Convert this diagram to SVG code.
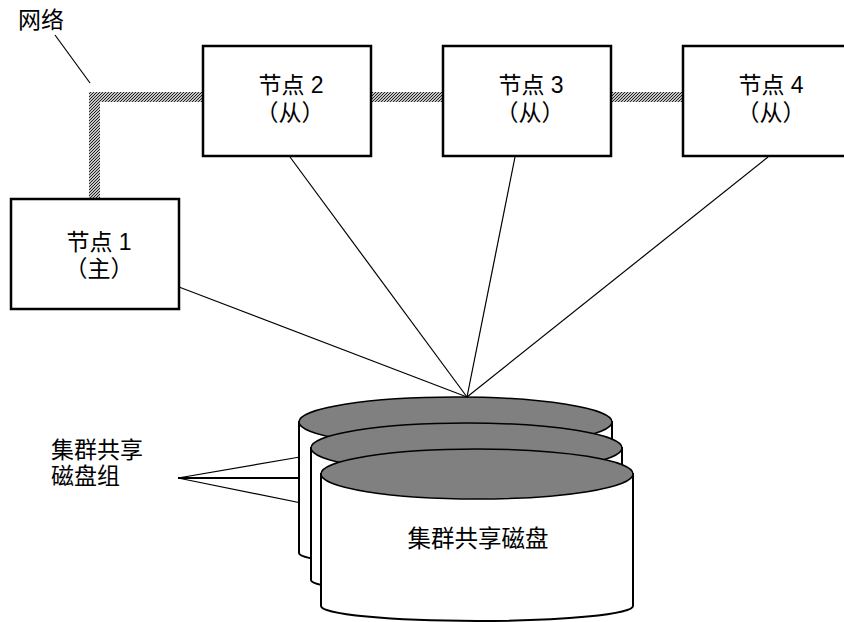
<svg xmlns="http://www.w3.org/2000/svg" width="844" height="622" viewBox="0 0 844 622">
<defs>
<pattern id="hatch" width="3" height="3" patternUnits="userSpaceOnUse">
<rect width="3" height="3" fill="#c4c4c4"/>
<path d="M-1,1 L1,-1 M0,3 L3,0 M2,4 L4,2" stroke="#222" stroke-width="1"/>
</pattern>
<style>
.box{fill:#fff;stroke:#000;stroke-width:2.5}
.t{font-family:"Liberation Sans","Noto Sans CJK SC",sans-serif;font-size:23px;fill:#000;text-anchor:middle}
.lbl{font-family:"Liberation Sans","Noto Sans CJK SC",sans-serif;font-size:23px;fill:#000}
.ln{stroke:#000;stroke-width:1.2;fill:none}
.side{fill:#fff;stroke:#000;stroke-width:2}
.top{fill:#808080;stroke:#000;stroke-width:1.5}
.net{fill:url(#hatch);stroke:none}
</style>
</defs>
<rect width="844" height="622" fill="#fff"/>
<g id="network">
<rect class="net" x="89" y="92" width="114" height="10"/>
<rect class="net" x="89" y="92" width="11" height="107"/>
<rect class="net" x="371" y="92" width="72" height="10"/>
<rect class="net" x="611" y="92" width="72" height="10"/>
<text class="lbl" x="18" y="28">网络</text>
<line class="ln" x1="55" y1="35" x2="90" y2="83"/>
</g>
<g id="connectors">
<line class="ln" x1="179" y1="287" x2="467" y2="397"/>
<line class="ln" x1="290" y1="157" x2="467" y2="397"/>
<line class="ln" x1="515" y1="157" x2="467" y2="397"/>
<line class="ln" x1="768" y1="157" x2="467" y2="397"/>
</g>
<g id="node1">
<rect class="box" x="11" y="199" width="168" height="110"/>
<text class="t" x="99" y="250">节点 1</text>
<text class="t" x="99" y="277">（主）</text>
</g>
<g id="node2">
<rect class="box" x="203" y="46" width="168" height="110"/>
<text class="t" x="291" y="93">节点 2</text>
<text class="t" x="290" y="121">（从）</text>
</g>
<g id="node3">
<rect class="box" x="443" y="46" width="168" height="110"/>
<text class="t" x="531" y="93">节点 3</text>
<text class="t" x="530" y="121">（从）</text>
</g>
<g id="node4">
<rect class="box" x="683" y="46" width="172" height="110"/>
<text class="t" x="771" y="93">节点 4</text>
<text class="t" x="771" y="121">（从）</text>
</g>
<g id="disk-group-label">
<text class="lbl" x="51" y="458">集群共享</text>
<text class="lbl" x="51" y="484">磁盘组</text>
<line class="ln" x1="178" y1="478" x2="300" y2="457"/>
<line class="ln" x1="178" y1="478" x2="311" y2="478" style="stroke-width:2"/>
<line class="ln" x1="178" y1="478" x2="321" y2="507"/>
</g>
<g id="disk1">
<path class="side" d="M299,422 L299,553 A156.5,14 0 0 0 612,553 L612,422 Z"/>
<ellipse class="top" cx="455.5" cy="422" rx="156.5" ry="25"/>
</g>
<g id="disk2">
<path class="side" d="M311,448 L311,580 A155.5,14 0 0 0 622,580 L622,448 Z"/>
<ellipse class="top" cx="466.5" cy="448" rx="155.5" ry="25"/>
</g>
<g id="disk3">
<path class="side" d="M321,474 L321,606 A156,15 0 0 0 633,606 L633,474 Z"/>
<ellipse class="top" cx="477" cy="474" rx="156" ry="25"/>
<text class="lbl" x="478" y="547" text-anchor="middle" style="font-size:23.5px">集群共享磁盘</text>
</g>
</svg>
